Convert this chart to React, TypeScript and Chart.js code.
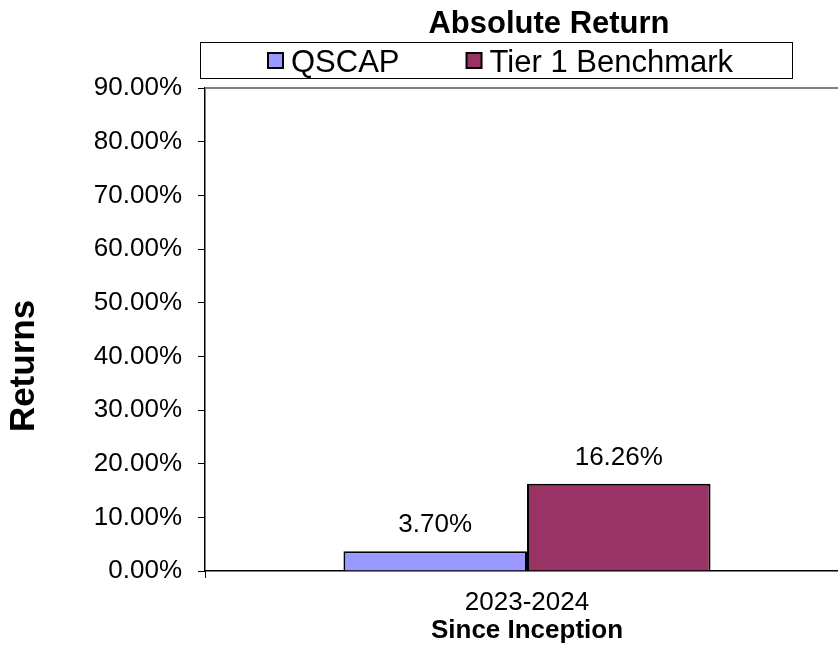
import React, { useEffect, useRef } from "react";
import { Chart, registerables } from "chart.js";

Chart.register(...registerables);

const categories = ["2023-2024"];
const seriesNames = ["QSCAP", "Tier 1 Benchmark"];
const qscapValues = [3.7];
const benchmarkValues = [16.26];
const yTicks = [0, 10, 20, 30, 40, 50, 60, 70, 80, 90];
const chartTitle = "Absolute Return";
const yTitle = "Returns";
const xTitle = "Since Inception";

const FONT = "'Liberation Sans', Arial, sans-serif";

const decorPlugin = {
  id: "decor",
  afterDraw(chart: any) {
    const ctx = chart.ctx as CanvasRenderingContext2D;
    const area = chart.chartArea;
    ctx.save();
    // plot border (top + right)
    ctx.strokeStyle = "#808080";
    ctx.lineWidth = 2;
    ctx.beginPath();
    ctx.moveTo(area.left, area.top);
    ctx.lineTo(area.right, area.top);
    ctx.lineTo(area.right, area.bottom);
    ctx.stroke();

    // title
    ctx.fillStyle = "#000";
    ctx.font = `bold 31px ${FONT}`;
    ctx.textAlign = "center";
    ctx.textBaseline = "alphabetic";
    ctx.fillText(chartTitle, 549, 33);

    // legend box
    const bx = 200, by = 42, bw = 592, bh = 36;
    ctx.fillStyle = "#fff";
    ctx.fillRect(bx, by, bw, bh);
    ctx.strokeStyle = "#000";
    ctx.lineWidth = 1;
    ctx.strokeRect(bx + 0.5, by + 0.5, bw, bh);
    ctx.font = `31px ${FONT}`;
    const sq = 15, gap = 8, spacing = 67;
    const items = chart.data.datasets.map((d: any) => ({
      label: d.label,
      color: d.backgroundColor,
      w: sq + gap + ctx.measureText(d.label).width,
    }));
    let x = bx + 68;
    const cy = by + bh / 2 + 0.5;
    ctx.textAlign = "left";
    ctx.textBaseline = "alphabetic";
    for (const it of items) {
      ctx.fillStyle = it.color;
      ctx.fillRect(x, cy - sq / 2, sq, sq);
      ctx.strokeStyle = "#000";
      ctx.lineWidth = 2;
      ctx.strokeRect(x, cy - sq / 2, sq, sq);
      ctx.fillStyle = "#000";
      ctx.fillText(it.label, x + sq + gap, by + 30);
      x += it.w + spacing;
    }

    // y title
    ctx.save();
    ctx.translate(24, 366);
    ctx.rotate(-Math.PI / 2);
    ctx.font = `bold 35px ${FONT}`;
    ctx.textAlign = "center";
    ctx.textBaseline = "middle";
    ctx.fillStyle = "#000";
    ctx.fillText(yTitle, 0, 0);
    ctx.restore();

    // data labels
    ctx.font = `26px ${FONT}`;
    ctx.textAlign = "center";
    ctx.textBaseline = "alphabetic";
    ctx.fillStyle = "#000";
    chart.data.datasets.forEach((ds: any, i: number) => {
      const meta = chart.getDatasetMeta(i);
      meta.data.forEach((bar: any, j: number) => {
        const v = ds.data[j];
        ctx.fillText(v.toFixed(2) + "%", bar.x, bar.y - 19);
      });
    });
    ctx.restore();
  },
};

export default function App() {
  const ref = useRef<HTMLCanvasElement | null>(null);
  useEffect(() => {
    if (!ref.current) return;
    const chart = new Chart(ref.current, {
      type: "bar",
      data: {
        labels: categories,
        datasets: [
          {
            label: seriesNames[0],
            data: qscapValues,
            backgroundColor: "#9999FF",
            borderColor: "#000",
            borderWidth: 2,
          },
          {
            label: seriesNames[1],
            data: benchmarkValues,
            backgroundColor: "#993366",
            borderColor: "#000",
            borderWidth: 2,
          },
        ],
      },
      options: {
        responsive: false,
        animation: false,
        layout: { padding: { top: 88, right: 21, left: 0, bottom: 0 } },
        datasets: { bar: { categoryPercentage: 0.57, barPercentage: 1.0 } },
        plugins: {
          legend: { display: false },
          title: { display: false },
          tooltip: { enabled: false },
        },
        scales: {
          x: {
            offset: true,
            grid: {
              offset: true,
              drawOnChartArea: false,
              drawTicks: true,
              tickLength: 7,
              color: "#000",
            },
            border: { color: "#000", width: 1.5 },
            ticks: {
              color: "#000",
              font: { family: FONT, size: 26 },
              padding: 9,
            },
            title: {
              display: true,
              text: xTitle,
              color: "#000",
              font: { family: FONT, size: 26, weight: "bold" },
              padding: { top: 0, bottom: 7 },
            },
            afterFit(scale: any) {
              scale.height = 82;
            },
          },
          y: {
            min: 0,
            max: 90,
            afterBuildTicks(scale: any) {
              scale.ticks = yTicks.map((v) => ({ value: v }));
            },
            grid: {
              drawOnChartArea: false,
              drawTicks: true,
              tickLength: 7,
              color: "#000",
            },
            border: { color: "#000", width: 1.5 },
            ticks: {
              color: "#000",
              font: { family: FONT, size: 26 },
              padding: 16,
              callback: (v: any) => Number(v).toFixed(2) + "%",
            },
            afterFit(scale: any) {
              scale.width = 205;
            },
          },
        },
      },
      plugins: [decorPlugin],
    });
    return () => chart.destroy();
  }, []);
  return (
    <div style={{ position: "absolute", left: 0, top: 0, width: 838, height: 653, overflow: "hidden", background: "#fff" }}>
      <canvas ref={ref} width={870} height={653} style={{ display: "block" }} />
    </div>
  );
}
